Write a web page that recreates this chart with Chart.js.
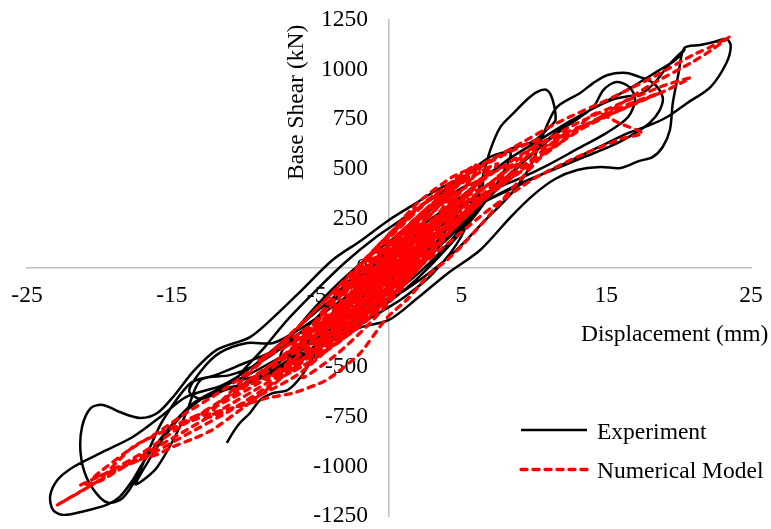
<!DOCTYPE html>
<html><head><meta charset="utf-8">
<script src="https://cdn.jsdelivr.net/npm/chart.js@4.4.1/dist/chart.umd.min.js"></script>
<style>html,body{margin:0;padding:0;background:#fff;} canvas{display:block;}</style>
</head><body>
<canvas id="c" width="771" height="529"></canvas>
<script>
// Displacement (mm), Base shear (kN) pairs
const experimentPoints = [
[-1.0,-60],[0.5,20],[2.0,120],[3.2,220],[2.2,170],[0.5,80],[-1.5,-30],[-3.0,-180],[-2.0,-150],[-0.5,-90],[1.5,20],[3.5,150],[4.8,300],[3.8,290],[1.5,170],[-0.5,60],[-3.0,-80],[-5.0,-270],[-4.0,-270],[-2.0,-200],[0.0,-110],[2.0,0],[4.0,150],[5.5,300],[6.5,430],[5.2,410],[3.0,300],[0.5,160],[-2.0,20],[-4.5,-150],[-6.5,-320],[-7.5,-450],
[-6.0,-430],[-4.0,-350],[-2.0,-250],[0.0,-170],[2.0,-50],[4.0,100],[6.0,270],[7.5,430],[8.4,580],[7.0,560],[5.0,450],[3.0,350],[1.0,250],[-1.0,150],[-3.0,30],[-5.0,-110],[-7.0,-260],[-8.6,-400],[-10.5,-560],
[-9.0,-540],[-7.0,-470],[-5.0,-390],[-3.0,-300],[-1.0,-200],[1.0,-90],[3.0,40],[5.0,200],[6.5,350],[5.5,330],[3.5,230],[1.5,120],[-0.5,0],[-2.5,-120],[-4.0,-200],[-6.0,-300],[-8.0,-378],[-9.8,-378],[-11.7,-428],[-13.0,-520],[-13.8,-620],[-13.0,-660],[-11.5,-620],
[-9.0,-560],[-7.0,-490],[-5.0,-400],[-3.0,-320],[-1.0,-240],[1.0,-150],[3.0,-30],[5.0,160],[6.3,420],[7.0,595],[7.7,711],[8.6,781],[9.5,847],[10.2,887],[10.9,897],[11.3,847],[11.5,746],[11.1,711],[10.0,640],[8.4,600],[6.8,530],[5.1,459],[3.3,393],[1.9,328],[0.0,242],[-1.9,140],[-3.9,40],[-6.0,-110],[-8.0,-250],[-9.6,-348],[-11.9,-413],[-13.5,-520],[-14.8,-640],[-16.0,-731],[-17.2,-756],[-18.6,-726],[-19.75,-690],[-20.6,-706],[-21.2,-801],[-21.3,-932],[-20.9,-1053],[-20.0,-1154],[-19.3,-1184],[-18.4,-1160],[-17.4,-1053],[-16.5,-902],[-15.6,-766],[-13.7,-580],
[-12.0,-540],[-10.0,-480],[-8.0,-420],[-6.0,-350],[-4.0,-270],[-2.0,-190],[0.0,-100],[2.0,10],[4.0,150],[6.0,300],[8.0,450],[10.0,580],[12.0,700],[14.1,811],[14.8,897],[15.7,937],[16.6,912],[17.0,850],[16.5,760],[15.0,680],[13.0,600],[11.0,520],[9.0,450],[7.0,390],[5.0,320],[3.0,230],[1.0,130],[-1.0,20],[-3.0,-110],[-5.0,-250],[-7.0,-380],[-9.0,-480],[-11.0,-540],[-13.0,-564],[-14.0,-731],[-14.9,-867],[-16.0,-1003],[-16.7,-1053],[-17.5,-1090],[-16.5,-960],[-15.5,-850],[-14.0,-720],[-12.0,-620],
[-10.0,-585],[-8.0,-520],[-6.0,-450],[-4.0,-370],[-2.0,-300],[0.0,-262],[2.0,-150],[4.0,-30],[6.3,91],[8.4,257],[10.0,370],[11.5,450],[13.0,494],[14.6,509],[16.0,504],[17.3,540],[18.2,559],[18.9,610],[19.4,696],[19.6,832],[20.0,983],[20.4,1109],[21.5,1124],[22.5,1140],[23.3,1155],[23.6,1120],[23.3,1033],[22.2,912],[20.6,832],[19.2,761],[18.0,720],[16.5,680],[14.5,610],[12.5,540],[10.5,470],[8.5,400],[6.5,330],[4.5,250],[2.5,170],[0.5,80],[-1.5,-20],[-3.5,-130],[-5.5,-250],[-7.5,-380],[-9.5,-500],[-11.5,-590],[-14.0,-650],[-15.8,-751],[-17.7,-852],[-19.9,-932],[-21.8,-1003],[-22.9,-1069],[-23.4,-1150],[-23.2,-1220],[-22.5,-1245],[-21.3,-1230],[-19.5,-1194],[-18.6,-1154],[-17.7,-1069],[-17.0,-983],[-16.0,-882],[-15.0,-790],[-13.5,-680],
[-11.5,-600],[-9.5,-530],[-7.5,-450],[-5.5,-380],[-3.5,-300],[-1.5,-230],[0.5,-140],[2.5,-40],[4.5,80],[6.5,230],[8.5,380],[9.8,520],[10.8,700],[11.6,811],[13.2,882],[14.1,932],[15.1,973],[16.4,983],[17.3,963],[18.3,930],[18.9,862],[18.7,796],[18.0,731],[17.0,680],[15.5,620],[13.5,560],[11.5,500],[9.5,440],[7.5,370],[5.5,290],[3.5,190],[1.5,80],[-0.5,-40],[-2.5,-170],[-4.5,-300],[-6.5,-420],[-8.5,-520],[-10.0,-580],[-8.5,-540],[-6.5,-440],[-4.5,-330],[-2.5,-230],[-0.5,-120],[1.5,-10],[3.5,110],[5.5,250],[7.5,400],[9.5,550],[11.5,680],[13.5,780],[15.5,850],[17.5,882],[18.5,947],[19.2,1013],[20.4,1100],[19.8,1050],[18.5,990],[16.5,900],[14.5,820],[12.5,740],[10.5,650],[8.5,560],[6.5,450],[4.5,330],[2.5,200],[0.5,70],[-1.5,-80],[-3.5,-250],[-5.0,-420],[-6.0,-540],[-7.0,-615],[-8.0,-630],[-8.9,-665],[-9.6,-731],[-10.3,-781],[-10.8,-832],[-11.2,-882]
];

const modelPoints = [
[0,0],[-1.5,-112],[-0.75,-86],[0,-40],[0.75,26],[1.5,112],[0.75,86],[0,40],[-0.75,-26],
[-2.5,-155],[-1.25,-104],[0,-20],[1.25,84],[2.5,215],[1.25,164],[0,80],[-1.25,-24],
[-3.5,-295],[-1.875,-229],[-0.25,-119],[1.375,15],[3,180],[1.375,111],[-0.25,1],[-1.875,-133],
[-3,-160],[-1.125,-72],[0.75,56],[2.625,205],[4.5,382],[2.625,301],[0.75,176],[-1.125,24],
[-5,-375],[-2.75,-278],[-0.5,-128],[1.75,55],[4,270],[1.75,167],[-0.5,12],[-2.75,-166],
[-6,-350],[-2.925,-209],[0.15,1],[3.225,242],[6.3,505],[3.225,370],[0.15,161],[-2.925,-81],
[-5,-435],[-2.375,-312],[0.25,-131],[2.875,75],[5.5,308],[2.875,187],[0.25,9],[-2.375,-200],
[-8,-480],[-4.25,-330],[-0.5,-78],[3.25,214],[7,510],[3.25,342],[-0.5,82],[-4.25,-202],
[-7,-530],[-3.25,-362],[0.5,-102],[4.25,182],[8,460],[4.25,310],[0.5,58],[-3.25,-234],
[-4,-390],[-1.75,-279],[0.5,-122],[2.75,54],[5,255],[2.75,150],[0.5,-2],[-1.75,-183],
[-6.5,-345],[-3.5,-203],[-0.5,2],[2.5,237],[5.5,488],[2.5,333],[-0.5,122],[-3.5,-107],
[-7.5,-545],[-4.5,-428],[-1.5,-232],[1.5,6],[4.5,272],[1.5,118],[-1.5,-92],[-4.5,-316],
[-5.5,-358],[-2.25,-194],[1,35],[4.25,280],[7.5,525],[4.25,392],[1,175],[-2.25,-82],
[-3.5,-135],[-1.75,-51],[0,70],[1.75,211],[3.5,375],[1.75,291],[0,170],[-1.75,29],
[-6,-550],[-3.75,-443],[-1.5,-292],[0.75,-114],[3,90],[0.75,-34],[-1.5,-192],[-3.75,-363],
[-8.5,-563],[-4.25,-398],[0,-110],[4.25,214],[8.5,523],[4.25,358],[0,70],[-4.25,-254],
[-2,-90],[0,20],[2,160],[4,310],[6,480],[4,390],[2,260],[0,100],
[-4.5,-382],[-2.75,-294],[-1,-175],[0.75,-36],[2.5,125],[0.75,28],[-1,-95],[-2.75,-230],
[-2.5,-145],[-0.625,-43],[1.25,89],[3.125,233],[5,395],[3.125,305],[1.25,179],[-0.625,29],
[-5.5,-388],[-3.125,-277],[-0.75,-116],[1.625,74],[4,290],[1.625,170],[-0.75,4],[-3.125,-181],
[-3,-300],[-0.625,-167],[1.75,1],[4.125,179],[6.5,365],[4.125,259],[1.75,101],[-0.625,-87],
[-7,-390],[-4.375,-274],[-1.75,-101],[0.875,106],[3.5,335],[0.875,186],[-1.75,-1],[-4.375,-194],
[-4,-310],[-1.875,-193],[0.25,-41],[2.375,124],[4.5,302],[2.375,188],[0.25,39],[-1.875,-129],
[-6,-460],[-3.125,-317],[-0.25,-119],[2.625,105],[5.5,348],[2.625,201],[-0.25,1],[-3.125,-221],
[-10.5,-612],[-5.25,-423],[0,-70],[5.25,319],[10.5,652],[5.25,463],[0,110],[-5.25,-279],
[-9,-465],[-5.25,-319],[-1.5,-72],[2.25,220],[6,520],[2.25,316],[-1.5,48],[-5.25,-223],
[-12.5,-750],[-6.375,-541],[-0.25,-139],[5.875,310],[12,670],
[10.5,560],[8.5,400],[6.5,230],[5,110],[4,40],[2.8,-30],[1.3,-155],[-0.2,-255],[-2,-430],[-4.3,-564],[-6.6,-630],[-8.4,-655],[-10.5,-700],[-12.2,-731],[-14,-781],[-15.8,-832],[-17.7,-902],[-20,-1068],[-21.1,-1119],[-22.9,-1194],
[-20,-1071],[-17,-944],[-14,-817],[-11,-689],[-8.9,-600],[-6,-470],[-3,-280],[0,-80],[3,130],[6,330],[9,500],[12,640],[15,780],[18,920],[21,1040],[22.3,1100],[23.5,1164],
[22.2,1114],[21,1074],[18.5,973],[15.5,862],[11.6,731],[8.4,600],[6.3,520],[4.4,460],[2,330],[0,170],[-2,20],[-4,-130],[-6,-280],[-8,-420],[-10,-540],[-12,-640],[-14,-730],[-16,-830],[-18,-920],[-20,-1030],[-20.4,-1058],
[-17,-960],[-14,-840],[-11,-720],[-8,-580],[-5,-420],[-2,-230],[1,-30],[4,170],[7,370],[10,540],[13,690],[16.4,811],[17.5,847],[19.2,897],[20.8,958],
[19,920],[16,830],[13,730],[10,610],[7,470],[4,300],[1,100],[-2,-100],[-5,-300],[-8,-480],[-11,-640],[-14,-780],[-17,-930],[-19.5,-1033],[-21.3,-1094],
[-20,-1075],[-17.7,-978],[-16,-940],[-14.9,-900],[-13.5,-860],[-12.2,-816],[-10,-700],[-7,-530],[-4,-330],[-1,-120],[2,80],[5,270],[8,450],[10.4,620],[14.5,750],[18.7,882],
[16,810],[13,700],[10,580],[7,430],[4,250],[1,60],[-2,-130],[-5,-330],[-8,-500],[-11,-650],[-13,-740],[-15,-800],
[-12,-700],[-9,-580],[-6,-430],[-3,-250],[0,-60],[3,140],[6,330],[9,480],[12,640],[14.3,781],[15.9,730],[17.5,680],
[16,650],[13,560],[10,450],[7,300],[4,120],[1,-60],[-2,-220],[-4,-300],
[-2,-170],[0,-40],[2,110],[3.5,240],[2,160],[0,20],[-2,-120],[-3,-200],[-1.5,-110],[0,-10],[1.5,90]
];

const seriesNames = ['Experiment', 'Numerical Model'];
const xTickValues = [-25, -15, -5, 5, 15, 25];
const yTickValues = [-1250, -1000, -750, -500, -250, 0, 250, 500, 750, 1000, 1250];
const xAxisTitle = 'Displacement (mm)';
const yAxisTitle = 'Base Shear (kN)';

const FONT = '"Liberation Serif", "Times New Roman", serif';
const FS = 23.5;

const overlay = {
  id: 'overlay',
  afterDraw(chart) {
    const ctx = chart.ctx;
    ctx.save();
    ctx.font = FS + 'px ' + FONT;
    ctx.fillStyle = '#000';
    ctx.textBaseline = 'alphabetic';
    ctx.textAlign = 'left';
    ctx.fillText(xAxisTitle, 581, 341);
    ctx.save();
    ctx.translate(303, 180);
    ctx.rotate(-Math.PI / 2);
    ctx.fillText(yAxisTitle, 0, 0);
    ctx.restore();
    const rows = [{line: 430, text: 439}, {line: 469.5, text: 477.5}];
    chart.data.datasets.forEach((ds, i) => {
      const r = rows[i];
      ctx.beginPath();
      ctx.strokeStyle = ds.borderColor;
      ctx.lineWidth = ds.borderWidth;
      ctx.setLineDash(ds.borderDash || []);
      ctx.lineCap = ds.borderCapStyle || 'butt';
      ctx.moveTo(521, r.line);
      ctx.lineTo(587, r.line);
      ctx.stroke();
      ctx.setLineDash([]);
      ctx.fillText(ds.label, 597, r.text);
    });
    ctx.restore();
  }
};

function zeroFit(s) {
  if (s.isHorizontal()) { s.height = 0; } else { s.width = 0; }
  s.paddingLeft = 0; s.paddingRight = 0; s.paddingTop = 0; s.paddingBottom = 0;
}
const tickFont = {family: FONT, size: FS};
const yTicksFromData = s => { s.ticks = yTickValues.map(v => ({value: v})); };

new Chart(document.getElementById('c'), {
  type: 'scatter',
  data: {
    datasets: [
      {
        label: seriesNames[0],
        data: experimentPoints.map(p => ({x: p[0], y: p[1]})),
        showLine: true,
        borderColor: '#000000',
        borderWidth: 2.5,
        borderJoinStyle: 'round',
        pointRadius: 0,
        tension: 0.3,
        fill: false,
        order: 2
      },
      {
        label: seriesNames[1],
        data: modelPoints.map(p => ({x: p[0], y: p[1]})),
        showLine: true,
        borderColor: '#ff0000',
        borderWidth: 3.3,
        borderDash: [6, 6],
        borderCapStyle: 'round',
        pointRadius: 0,
        tension: 0.2,
        fill: false,
        order: 1
      }
    ]
  },
  options: {
    responsive: false,
    animation: false,
    layout: {padding: {left: 27, right: 20, top: 20, bottom: 13}},
    plugins: {legend: {display: false}, tooltip: {enabled: false}},
    scales: {
      x: {
        type: 'linear', min: -25, max: 25, position: {y: 0},
        afterBuildTicks: s => { s.ticks = xTickValues.map(v => ({value: v})); },
        afterFit: zeroFit,
        grid: {display: false, drawTicks: false},
        border: {display: true, color: '#bfbfbf', width: 1.5},
        ticks: {font: tickFont, color: '#000', padding: 14, maxRotation: 0, autoSkip: false,
                callback: v => String(v)}
      },
      y: {
        type: 'linear', min: -1250, max: 1250, position: {x: 0},
        afterBuildTicks: yTicksFromData,
        afterFit: zeroFit,
        grid: {display: false, drawTicks: false},
        border: {display: true, color: '#bfbfbf', width: 1.5},
        ticks: {display: false}
      },
      yLabels: {
        type: 'linear', axis: 'y', min: -1250, max: 1250, position: {x: -1.45},
        afterBuildTicks: yTicksFromData,
        afterFit: zeroFit,
        grid: {display: false, drawTicks: false},
        border: {display: false},
        ticks: {font: tickFont, color: '#000', padding: 0, autoSkip: false,
                callback: v => String(v)}
      }
    }
  },
  plugins: [overlay]
});
</script>
</body></html>
